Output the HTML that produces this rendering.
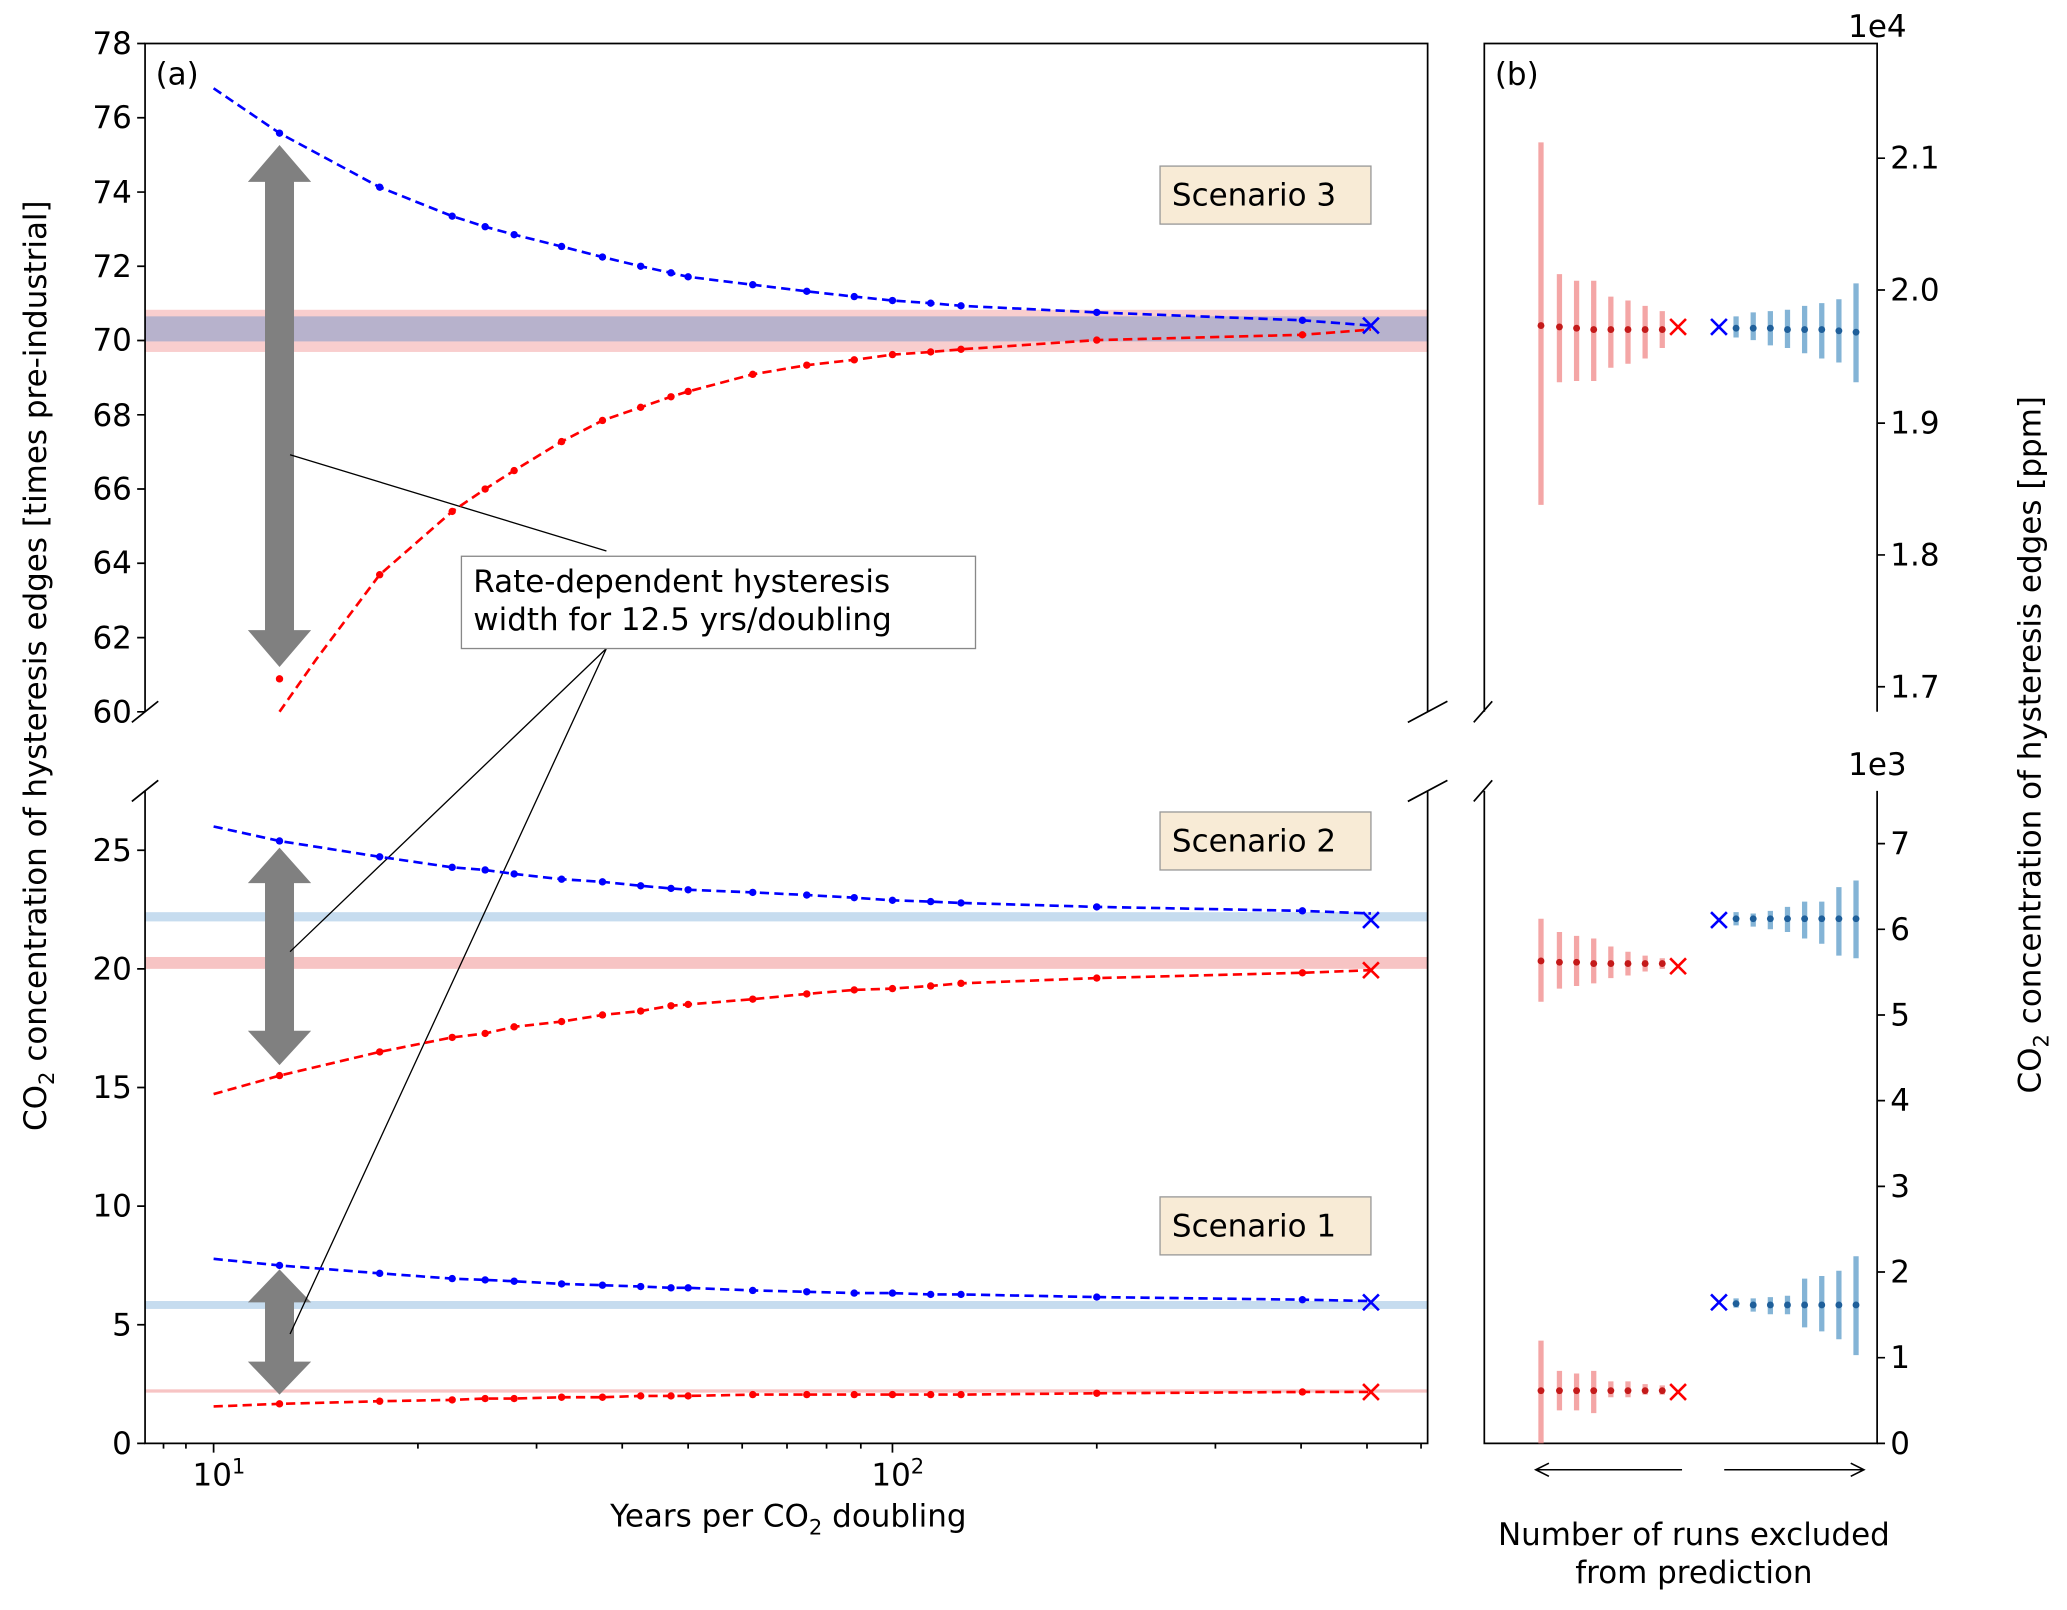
<!DOCTYPE html>
<html><head><meta charset="utf-8"><style>html,body{margin:0;padding:0;background:#fff}svg{display:block}text{font-family:"DejaVu Sans","Liberation Sans",sans-serif;fill:#000}</style></head><body>
<svg width="2067" height="1610" viewBox="0 0 1568 1221.4" xmlns="http://www.w3.org/2000/svg">
<rect x="110" y="235" width="973" height="32" fill="#f4a6a6" opacity="0.55"/>
<rect x="110" y="240" width="973" height="19" fill="#8aa0cc" opacity="0.6"/>
<rect x="110" y="692" width="973" height="7" fill="#c6dcef"/>
<rect x="110" y="726" width="973" height="9" fill="#f7c4c4"/>
<rect x="110" y="987" width="973" height="6" fill="#c6dcef"/>
<rect x="110" y="1054" width="973" height="2.5" fill="#f7c4c4"/>
<g stroke="#000" stroke-width="1.3" fill="none">
<path d="M110,540 V33 H1083 V540"/>
<path d="M110,600 V1095 H1083 V600"/>
<path d="M100,548 L120,532 M100,608 L120,592 M1068,548 L1098,532 M1068,608 L1098,592"/>
<path d="M1126,540 V33 H1424 V540"/>
<path d="M1126,600 V1095 H1424 V600"/>
<path d="M1118,548 L1132,532 M1118,608 L1132,592"/>
</g>
<g stroke="#000" stroke-width="1.3">
<path d="M104,33h6M104,89.3h6M104,145.7h6M104,202h6M104,258.3h6M104,314.7h6M104,371h6M104,427.3h6M104,483.7h6M104,540h6"/>
<path d="M104,1095h6M104,1005h6M104,915h6M104,825h6M104,735h6M104,645h6"/>
<path d="M162,1095v7M677,1095v7"/>
<path d="M124,1095v4M141,1095v4M317,1095v4M407,1095v4M472,1095v4M522,1095v4M563,1095v4M597,1095v4M627,1095v4M653,1095v4M832,1095v4M922,1095v4M987,1095v4M1037,1095v4M1078,1095v4"/>
<path d="M1424,120h6M1424,220h6M1424,321h6M1424,421h6M1424,521h6"/>
<path d="M1424,1095h6M1424,1030h6M1424,965h6M1424,900h6M1424,835h6M1424,770h6M1424,705h6M1424,640h6"/>
</g>
<g font-size="23.5" text-anchor="end">
<text x="100" y="41">78</text><text x="100" y="97">76</text><text x="100" y="154">74</text><text x="100" y="210">72</text><text x="100" y="266">70</text><text x="100" y="323">68</text><text x="100" y="379">66</text><text x="100" y="435">64</text><text x="100" y="492">62</text><text x="100" y="548">60</text>
<text x="100" y="1103">0</text><text x="100" y="1013">5</text><text x="100" y="923">10</text><text x="100" y="833">15</text><text x="100" y="743">20</text><text x="100" y="653">25</text>
</g>
<g font-size="23.5">
<text x="1434" y="128">2.1</text><text x="1434" y="228">2.0</text><text x="1434" y="329">1.9</text><text x="1434" y="429">1.8</text><text x="1434" y="529">1.7</text>
<text x="1434" y="1103">0</text><text x="1434" y="1038">1</text><text x="1434" y="973">2</text><text x="1434" y="908">3</text><text x="1434" y="843">4</text><text x="1434" y="778">5</text><text x="1434" y="713">6</text><text x="1434" y="648">7</text>
<text x="1402" y="28">1e4</text><text x="1402" y="588">1e3</text>
<text x="146" y="1127">10<tspan font-size="16" dy="-9">1</tspan></text>
<text x="661" y="1127">10<tspan font-size="16" dy="-9">2</tspan></text>
<text x="118" y="64">(a)</text><text x="1134" y="64">(b)</text>
<text x="598" y="1158" text-anchor="middle">Years per CO<tspan font-size="16" dy="6">2</tspan><tspan dy="-6"> doubling</tspan></text>
<text x="1285" y="1172" text-anchor="middle">Number of runs excluded</text>
<text x="1285" y="1201" text-anchor="middle">from prediction</text>
<text transform="translate(35,505) rotate(-90)" text-anchor="middle">CO<tspan font-size="16" dy="6">2</tspan><tspan dy="-6"> concentration of hysteresis edges [times pre-industrial]</tspan></text>
<text transform="translate(1548,565) rotate(-90)" text-anchor="middle">CO<tspan font-size="16" dy="6">2</tspan><tspan dy="-6"> concentration of hysteresis edges [ppm]</tspan></text>
</g>
<g fill="#808080">
<polygon points="212,110 236,138 223,138 223,478 236,478 212,506 188,478 201,478 201,138 188,138"/>
<polygon points="212,643 236,670 223,670 223,782 236,782 212,808 188,782 201,782 201,670 188,670"/>
<polygon points="212,963 236,988 223,988 223,1033 236,1033 212,1058 188,1033 201,1033 201,988 188,988"/>
</g>
<g stroke="#000" stroke-width="1" fill="none">
<path d="M220,345 L460,418 M460,492 L220,722 M460,492 L220,1012"/>
</g>
<rect x="350" y="422" width="390" height="70" fill="#fff" stroke="#888" stroke-width="1"/>
<g font-size="23.5"><text x="359" y="449">Rate-dependent hysteresis</text><text x="359" y="478">width for 12.5 yrs/doubling</text></g>
<g font-size="23.5">
<rect x="880" y="126" width="160" height="44" fill="#f8ebd6" stroke="#999"/><text x="889" y="156">Scenario 3</text>
<rect x="880" y="616" width="160" height="44" fill="#f8ebd6" stroke="#999"/><text x="889" y="646">Scenario 2</text>
<rect x="880" y="908" width="160" height="44" fill="#f8ebd6" stroke="#999"/><text x="889" y="938">Scenario 1</text>
</g>
<g fill="none" stroke-width="2" stroke-dasharray="7,4">
<polyline stroke="#0000ff" points="162,67 212,101 288,142 343,164 368,172 390,178 426,187 457,195 486,202 509,207 522,210 571,216 612,221 648,225 677,228 706,230 729,232 832,237 988,243 1040,247"/>
<polyline stroke="#ff0000" points="212,540 240,500 288,436 343,388 368,371 390,357 426,335 457,319 486,309 509,301 522,297 571,284 612,277 648,273 677,269 706,267 729,265 832,258 988,254 1040,250"/>
<polyline stroke="#0000ff" points="162,627 212,638 288,650 343,658 368,660 390,663 426,667 457,669 486,672 509,674 522,675 571,677 612,679 648,681 677,683 706,684 729,685 832,688 988,691 1040,693"/>
<polyline stroke="#ff0000" points="162,830 212,816 288,798 343,787 368,784 390,779 426,775 457,770 486,767 509,763 522,762 571,758 612,754 648,751 677,750 706,748 729,746 832,742 988,738 1040,736"/>
<polyline stroke="#0000ff" points="162,955 212,960 288,966 343,970 368,971 390,972 426,974 457,975 486,976 509,977 522,977 571,979 612,980 648,981 677,981 706,982 729,982 832,984 988,986 1040,987"/>
<polyline stroke="#ff0000" points="162,1067 212,1065 288,1063 343,1062 368,1061 390,1061 426,1060 457,1060 486,1059 509,1059 522,1059 571,1058 612,1058 648,1058 677,1058 706,1058 729,1058 832,1057 988,1056 1040,1056"/>
</g>
<g fill="#0000ff">
<circle cx="212" cy="101" r="2.8"/><circle cx="288" cy="142" r="2.8"/><circle cx="343" cy="164" r="2.8"/><circle cx="368" cy="172" r="2.8"/><circle cx="390" cy="178" r="2.8"/><circle cx="426" cy="187" r="2.8"/><circle cx="457" cy="195" r="2.8"/><circle cx="486" cy="202" r="2.8"/><circle cx="509" cy="207" r="2.8"/><circle cx="522" cy="210" r="2.8"/><circle cx="571" cy="216" r="2.8"/><circle cx="612" cy="221" r="2.8"/><circle cx="648" cy="225" r="2.8"/><circle cx="677" cy="228" r="2.8"/><circle cx="706" cy="230" r="2.8"/><circle cx="729" cy="232" r="2.8"/><circle cx="832" cy="237" r="2.8"/><circle cx="988" cy="243" r="2.8"/>
<circle cx="212" cy="638" r="2.8"/><circle cx="288" cy="650" r="2.8"/><circle cx="343" cy="658" r="2.8"/><circle cx="368" cy="660" r="2.8"/><circle cx="390" cy="663" r="2.8"/><circle cx="426" cy="667" r="2.8"/><circle cx="457" cy="669" r="2.8"/><circle cx="486" cy="672" r="2.8"/><circle cx="509" cy="674" r="2.8"/><circle cx="522" cy="675" r="2.8"/><circle cx="571" cy="677" r="2.8"/><circle cx="612" cy="679" r="2.8"/><circle cx="648" cy="681" r="2.8"/><circle cx="677" cy="683" r="2.8"/><circle cx="706" cy="684" r="2.8"/><circle cx="729" cy="685" r="2.8"/><circle cx="832" cy="688" r="2.8"/><circle cx="988" cy="691" r="2.8"/>
<circle cx="212" cy="960" r="2.8"/><circle cx="288" cy="966" r="2.8"/><circle cx="343" cy="970" r="2.8"/><circle cx="368" cy="971" r="2.8"/><circle cx="390" cy="972" r="2.8"/><circle cx="426" cy="974" r="2.8"/><circle cx="457" cy="975" r="2.8"/><circle cx="486" cy="976" r="2.8"/><circle cx="509" cy="977" r="2.8"/><circle cx="522" cy="977" r="2.8"/><circle cx="571" cy="979" r="2.8"/><circle cx="612" cy="980" r="2.8"/><circle cx="648" cy="981" r="2.8"/><circle cx="677" cy="981" r="2.8"/><circle cx="706" cy="982" r="2.8"/><circle cx="729" cy="982" r="2.8"/><circle cx="832" cy="984" r="2.8"/><circle cx="988" cy="986" r="2.8"/>
</g>
<g fill="#ff0000">
<circle cx="212" cy="515" r="2.8"/><circle cx="288" cy="436" r="2.8"/><circle cx="343" cy="388" r="2.8"/><circle cx="368" cy="371" r="2.8"/><circle cx="390" cy="357" r="2.8"/><circle cx="426" cy="335" r="2.8"/><circle cx="457" cy="319" r="2.8"/><circle cx="486" cy="309" r="2.8"/><circle cx="509" cy="301" r="2.8"/><circle cx="522" cy="297" r="2.8"/><circle cx="571" cy="284" r="2.8"/><circle cx="612" cy="277" r="2.8"/><circle cx="648" cy="273" r="2.8"/><circle cx="677" cy="269" r="2.8"/><circle cx="706" cy="267" r="2.8"/><circle cx="729" cy="265" r="2.8"/><circle cx="832" cy="258" r="2.8"/><circle cx="988" cy="254" r="2.8"/>
<circle cx="212" cy="816" r="2.8"/><circle cx="288" cy="798" r="2.8"/><circle cx="343" cy="787" r="2.8"/><circle cx="368" cy="784" r="2.8"/><circle cx="390" cy="779" r="2.8"/><circle cx="426" cy="775" r="2.8"/><circle cx="457" cy="770" r="2.8"/><circle cx="486" cy="767" r="2.8"/><circle cx="509" cy="763" r="2.8"/><circle cx="522" cy="762" r="2.8"/><circle cx="571" cy="758" r="2.8"/><circle cx="612" cy="754" r="2.8"/><circle cx="648" cy="751" r="2.8"/><circle cx="677" cy="750" r="2.8"/><circle cx="706" cy="748" r="2.8"/><circle cx="729" cy="746" r="2.8"/><circle cx="832" cy="742" r="2.8"/><circle cx="988" cy="738" r="2.8"/>
<circle cx="212" cy="1065" r="2.8"/><circle cx="288" cy="1063" r="2.8"/><circle cx="343" cy="1062" r="2.8"/><circle cx="368" cy="1061" r="2.8"/><circle cx="390" cy="1061" r="2.8"/><circle cx="426" cy="1060" r="2.8"/><circle cx="457" cy="1060" r="2.8"/><circle cx="486" cy="1059" r="2.8"/><circle cx="509" cy="1059" r="2.8"/><circle cx="522" cy="1059" r="2.8"/><circle cx="571" cy="1058" r="2.8"/><circle cx="612" cy="1058" r="2.8"/><circle cx="648" cy="1058" r="2.8"/><circle cx="677" cy="1058" r="2.8"/><circle cx="706" cy="1058" r="2.8"/><circle cx="729" cy="1058" r="2.8"/><circle cx="832" cy="1057" r="2.8"/><circle cx="988" cy="1056" r="2.8"/>
</g>
<g stroke-width="2" fill="none">
<path stroke="#0000ff" d="M1034,241l12,12m0,-12l-12,12 M1034,692l12,12m0,-12l-12,12 M1034,982l12,12m0,-12l-12,12 M1298,242l12,12m0,-12l-12,12 M1298,692l12,12m0,-12l-12,12 M1298,982l12,12m0,-12l-12,12"/>
<path stroke="#ff0000" d="M1034,730l12,12m0,-12l-12,12 M1034,1050l12,12m0,-12l-12,12 M1267,242l12,12m0,-12l-12,12 M1267,727l12,12m0,-12l-12,12 M1267,1050l12,12m0,-12l-12,12"/>
</g>
<g stroke="#f08080" stroke-opacity="0.7" stroke-width="4">
<path d="M1169,108V383M1183,208V290M1196,213V289M1209,213V289M1222,225V279M1235,228V276M1248,232V272M1261,236V264"/>
<path d="M1169,697V760M1183,707V750M1196,710V748M1209,712V746M1222,718V742M1235,722V740M1248,725V737M1261,727V735"/>
<path d="M1169,1017V1095M1183,1040V1070M1196,1042V1070M1209,1040V1072M1222,1048V1060M1235,1048V1060M1248,1050V1058M1261,1051V1058"/>
</g>
<g stroke="#1f77b4" stroke-opacity="0.55" stroke-width="4">
<path d="M1317,240V256M1330,237V258M1343,236V262M1356,235V264M1369,232V268M1382,230V272M1395,227V275M1408,215V290"/>
<path d="M1317,692V702M1330,693V703M1343,691V705M1356,688V707M1369,684V712M1382,684V716M1395,673V725M1408,668V727"/>
<path d="M1317,985V992M1330,985V995M1343,984V997M1356,983V997M1369,970V1007M1382,968V1010M1395,964V1016M1408,953V1028"/>
</g>
<g fill="#c41a1a">
<circle cx="1169" cy="247" r="2.6"/><circle cx="1183" cy="248" r="2.6"/><circle cx="1196" cy="249" r="2.6"/><circle cx="1209" cy="250" r="2.6"/><circle cx="1222" cy="250" r="2.6"/><circle cx="1235" cy="250" r="2.6"/><circle cx="1248" cy="250" r="2.6"/><circle cx="1261" cy="250" r="2.6"/>
<circle cx="1169" cy="729" r="2.6"/><circle cx="1183" cy="730" r="2.6"/><circle cx="1196" cy="730" r="2.6"/><circle cx="1209" cy="731" r="2.6"/><circle cx="1222" cy="731" r="2.6"/><circle cx="1235" cy="731" r="2.6"/><circle cx="1248" cy="731" r="2.6"/><circle cx="1261" cy="731" r="2.6"/>
<circle cx="1169" cy="1055" r="2.6"/><circle cx="1183" cy="1055" r="2.6"/><circle cx="1196" cy="1055" r="2.6"/><circle cx="1209" cy="1055" r="2.6"/><circle cx="1222" cy="1055" r="2.6"/><circle cx="1235" cy="1055" r="2.6"/><circle cx="1248" cy="1055" r="2.6"/><circle cx="1261" cy="1055" r="2.6"/>
</g>
<g fill="#1f5f9a">
<circle cx="1317" cy="249" r="2.6"/><circle cx="1330" cy="249" r="2.6"/><circle cx="1343" cy="249" r="2.6"/><circle cx="1356" cy="250" r="2.6"/><circle cx="1369" cy="250" r="2.6"/><circle cx="1382" cy="250" r="2.6"/><circle cx="1395" cy="251" r="2.6"/><circle cx="1408" cy="252" r="2.6"/>
<circle cx="1317" cy="697" r="2.6"/><circle cx="1330" cy="697" r="2.6"/><circle cx="1343" cy="697" r="2.6"/><circle cx="1356" cy="697" r="2.6"/><circle cx="1369" cy="697" r="2.6"/><circle cx="1382" cy="697" r="2.6"/><circle cx="1395" cy="697" r="2.6"/><circle cx="1408" cy="697" r="2.6"/>
<circle cx="1317" cy="989" r="2.6"/><circle cx="1330" cy="990" r="2.6"/><circle cx="1343" cy="990" r="2.6"/><circle cx="1356" cy="990" r="2.6"/><circle cx="1369" cy="990" r="2.6"/><circle cx="1382" cy="990" r="2.6"/><circle cx="1395" cy="990" r="2.6"/><circle cx="1408" cy="990" r="2.6"/>
</g>
<g stroke="#000" stroke-width="1.2" fill="none">
<path d="M1276,1115H1165M1175,1110L1165,1115L1175,1120"/>
<path d="M1308,1115H1414M1404,1110L1414,1115L1404,1120"/>
</g>
</svg>
</body></html>
